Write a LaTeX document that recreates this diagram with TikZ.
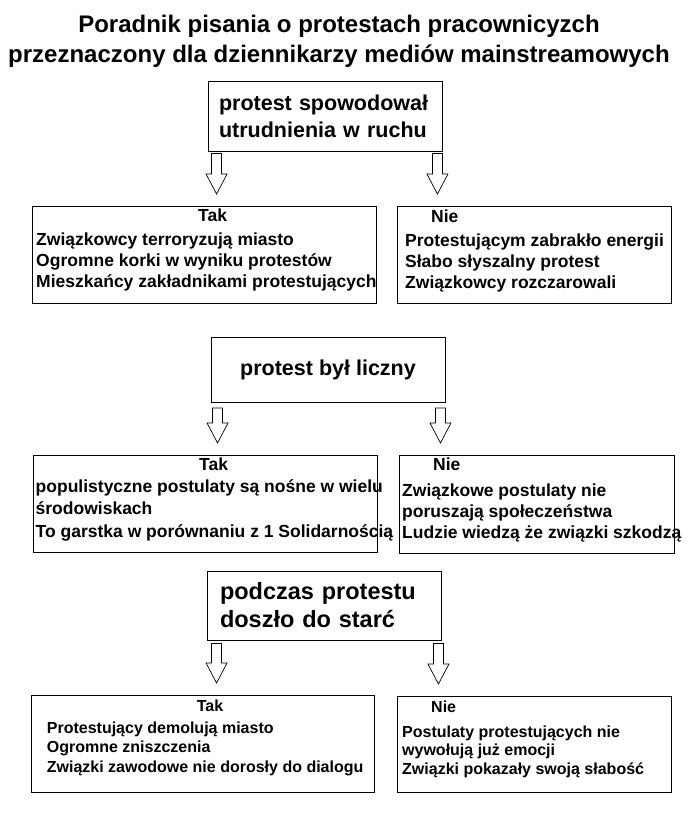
\documentclass[tikz,border=0pt]{standalone}
\usepackage{fontspec}
\setmainfont{Liberation Sans}
\usetikzlibrary{calc}

% hollow block arrow going down from #1 until just above the box #2
\newcommand{\blockarrow}[2]{%
  \draw[hollow] let \p1=(#1), \p2=(#2) in
    (\x1-5pt,\y1) -- (\x1+5pt,\y1) -- (\x1+5pt,\y2+32pt) -- (\x1+10.5pt,\y2+32pt)
    -- (\x1,\y2+12pt) -- (\x1-10.5pt,\y2+32pt) -- (\x1-5pt,\y2+32pt) -- cycle;}

\begin{document}
\begin{tikzpicture}[x=1pt,y=-1pt,
  title/.style={font=\bfseries\fontsize{24}{30}\selectfont,align=center,inner sep=0pt},
  question/.style={draw,line width=0.9pt,minimum width=234pt,align=left},
  answer/.style={draw,line width=0.9pt,anchor=north west},
  answertext/.style={font=\bfseries\fontsize{17.5}{21}\selectfont,align=left,inner sep=0pt,anchor=base west},
  hollow/.style={draw,line width=0.7pt,fill=white}
]
  \useasboundingbox[fill=white] (0,0) rectangle (691,824);

  % base of a multi-line node is its last line
  \node[title,anchor=base] (title) at (339,63)
    {Poradnik pisania o protestach pracownicyzch\\przeznaczony dla dziennikarzy mediów mainstreamowych};

  % questions
  \node[question,font=\bfseries\fontsize{21.5}{27}\selectfont,text width=212pt,inner xsep=11pt,minimum height=70pt] (ruch) at (325,116)
    {protest spowodował\\utrudnienia w ruchu};
  \node[question,font=\bfseries\fontsize{21.5}{27}\selectfont,align=center,minimum height=65pt] (liczny) at (328,370)
    {protest był liczny};
  \node[question,font=\bfseries\fontsize{23.5}{28}\selectfont,text width=208pt,inner xsep=13pt,minimum height=69pt] (starcia) at (324,605.5)
    {podczas protestu\\doszło do starć};

  % answers
  \node[answer,minimum width=344pt,minimum height=97pt] (ruchtak) at (32,206) {};
  \node[answer,minimum width=274pt,minimum height=97pt] (ruchnie) at (397,206) {};
  \node[answer,minimum width=344pt,minimum height=97pt] (licznytak) at (33,455) {};
  \node[answer,minimum width=275pt,minimum height=98pt] (licznynie) at (399,455) {};
  \node[answer,minimum width=343pt,minimum height=97pt] (starciatak) at (31,695) {};
  \node[answer,minimum width=274pt,minimum height=96pt] (starcianie) at (397,696) {};

  \node[answertext] (ruchtaktxt) at ($(ruchtak.north west)+(4,81)$)
    {\hspace*{162pt}Tak\\[3pt]Związkowcy terroryzują miasto\\Ogromne korki w wyniku protestów\\Mieszkańcy zakładnikami protestujących};
  \node[answertext] (ruchnietxt) at ($(ruchnie.north west)+(8,82)$)
    {\hspace*{26pt}Nie\\[3pt]Protestującym zabrakło energii\\Słabo słyszalny protest\\Związkowcy rozczarowali};
  \node[answertext,font=\bfseries\fontsize{17.5}{22.5}\selectfont] (licznytaktxt) at ($(licznytak.north west)+(2.5,82)$)
    {\hspace*{163.5pt}Tak\\[-0.5pt]populistyczne postulaty są nośne w wielu\\środowiskach\\To garstka w porównaniu z 1 Solidarnością};
  \node[answertext] (licznynietxt) at ($(licznynie.north west)+(3,83)$)
    {\hspace*{31pt}Nie\\[5pt]Związkowe postulaty nie\\poruszają społeczeństwa\\Ludzie wiedzą że związki szkodzą};
  \node[answertext,font=\bfseries\fontsize{16}{19.5}\selectfont] (starciataktxt) at ($(starciatak.north west)+(15.7,77)$)
    {\hspace*{150pt}Tak\\[2.5pt]Protestujący demolują miasto\\Ogromne zniszczenia\\Związki zawodowe nie dorosły do dialogu};
  \node[answertext,font=\bfseries\fontsize{16}{18.5}\selectfont] (starcianietxt) at ($(starcianie.north west)+(5,78)$)
    {\hspace*{29pt}Nie\\[6.5pt]Postulaty protestujących nie\\wywołują już emocji\\Związki pokazały swoją słabość};

  % arrows
  \blockarrow{$(ruch.south west)+(9,2)$}{ruchtak.north}
  \blockarrow{$(ruch.south east)+(-5,2)$}{ruchnie.north}
  \blockarrow{$(liczny.south west)+(7,5)$}{licznytak.north}
  \blockarrow{$(liczny.south east)+(-5,5)$}{licznynie.north}
  \blockarrow{$(starcia.south west)+(10,3)$}{starciatak.north}
  \blockarrow{$(starcia.south east)+(-3,3)$}{starcianie.north}
\end{tikzpicture}
\end{document}
